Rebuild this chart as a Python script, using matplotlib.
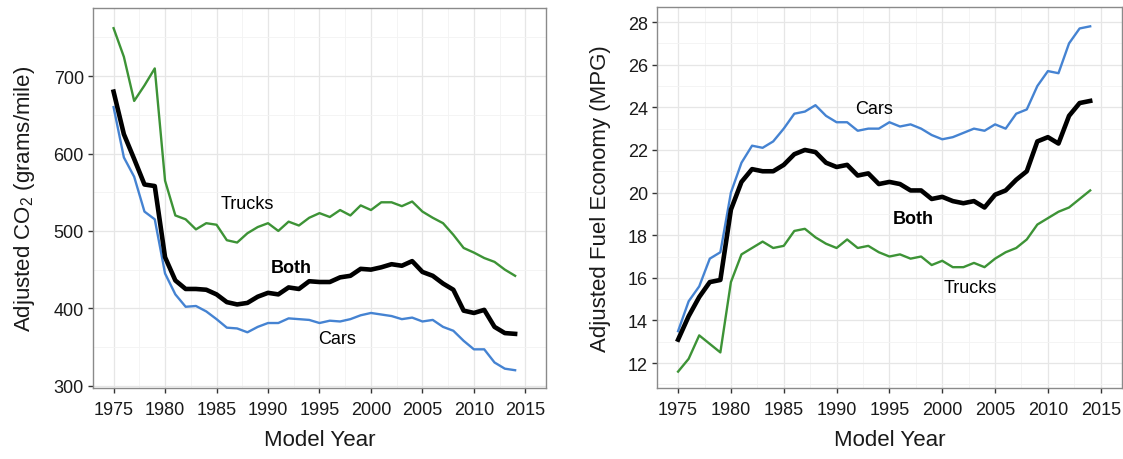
#!/usr/bin/env python
"""Adjusted CO2 emissions and fuel economy by model year, cars vs trucks"""

import matplotlib
matplotlib.use("Agg")
import matplotlib.pyplot as plt
from matplotlib.ticker import MultipleLocator

plt.rcParams['font.family'] = ['Liberation Sans', 'DejaVu Sans']
plt.rcParams['mathtext.fontset'] = 'custom'
plt.rcParams['mathtext.rm'] = 'Liberation Sans'
plt.rcParams['mathtext.default'] = 'regular'

years = list(range(1975, 2015))

# adjusted CO2, grams per mile
co2_cars = [660, 595, 570, 525, 515, 445, 418, 402, 403, 396,
            386, 375, 374, 369, 376, 381, 381, 387, 386, 385,
            381, 384, 383, 386, 391, 394, 392, 390, 386, 388,
            383, 385, 376, 371, 358, 347, 347, 330, 322, 320]
co2_trucks = [762, 725, 668, 688, 710, 565, 520, 515, 502, 510,
              508, 488, 485, 497, 505, 510, 500, 512, 507, 517,
              523, 518, 527, 520, 533, 527, 537, 537, 532, 538,
              525, 517, 510, 495, 478, 472, 465, 460, 450, 442]
co2_both = [680, 625, 593, 560, 558, 466, 436, 425, 425, 424,
            418, 408, 405, 407, 415, 420, 418, 427, 425, 435,
            434, 434, 440, 442, 451, 450, 453, 457, 455, 461,
            447, 442, 432, 424, 397, 394, 398, 376, 368, 367]

# adjusted fuel economy, MPG
mpg_cars = [13.5, 14.9, 15.6, 16.9, 17.2, 20.0, 21.4, 22.2, 22.1, 22.4,
            23.0, 23.7, 23.8, 24.1, 23.6, 23.3, 23.3, 22.9, 23.0, 23.0,
            23.3, 23.1, 23.2, 23.0, 22.7, 22.5, 22.6, 22.8, 23.0, 22.9,
            23.2, 23.0, 23.7, 23.9, 25.0, 25.7, 25.6, 27.0, 27.7, 27.8]
mpg_trucks = [11.6, 12.2, 13.3, 12.9, 12.5, 15.8, 17.1, 17.4, 17.7, 17.4,
              17.5, 18.2, 18.3, 17.9, 17.6, 17.4, 17.8, 17.4, 17.5, 17.2,
              17.0, 17.1, 16.9, 17.0, 16.6, 16.8, 16.5, 16.5, 16.7, 16.5,
              16.9, 17.2, 17.4, 17.8, 18.5, 18.8, 19.1, 19.3, 19.7, 20.1]
mpg_both = [13.1, 14.2, 15.1, 15.8, 15.9, 19.2, 20.5, 21.1, 21.0, 21.0,
            21.3, 21.8, 22.0, 21.9, 21.4, 21.2, 21.3, 20.8, 20.9, 20.4,
            20.5, 20.4, 20.1, 20.1, 19.7, 19.8, 19.6, 19.5, 19.6, 19.3,
            19.9, 20.1, 20.6, 21.0, 22.4, 22.6, 22.3, 23.6, 24.2, 24.3]

CAR_COLOR = "#4583d2"
TRUCK_COLOR = "#3d9336"


def _style(ax, ylim, major, minor):
    ax.set_xlim(1973, 2017)
    ax.set_ylim(*ylim)
    ax.xaxis.set_major_locator(MultipleLocator(5))
    ax.xaxis.set_minor_locator(MultipleLocator(2.5))
    ax.yaxis.set_major_locator(MultipleLocator(major))
    ax.yaxis.set_minor_locator(MultipleLocator(minor))
    ax.grid(which='major', color='#e6e6e6', lw=0.9)
    ax.grid(which='minor', color='#f3f3f3', lw=0.6)
    ax.set_axisbelow(True)
    for sp in ax.spines.values():
        sp.set_color('#8a8a8a')
        sp.set_linewidth(1.0)
    ax.tick_params(which='major', direction='out', length=3.5, width=1.0,
                   color='#333333', labelsize=13, labelcolor='#1a1a1a')
    ax.tick_params(axis='x', which='major', pad=6)
    ax.tick_params(axis='y', which='major', pad=3)
    ax.tick_params(which='minor', length=0)
    ax.set_xlabel("Model Year", fontsize=16, color='#1a1a1a', labelpad=8)


fig = plt.figure(figsize=(11.23, 4.6), dpi=100)
ax1 = fig.add_axes([0.0828, 0.1543, 0.4034, 0.826])
ax2 = fig.add_axes([0.585, 0.1543, 0.414, 0.828])

# CO2 panel
ax1.plot(years, co2_trucks, color=TRUCK_COLOR, lw=1.7)
ax1.plot(years, co2_cars, color=CAR_COLOR, lw=1.7)
ax1.plot(years, co2_both, color='black', lw=3.3)
_style(ax1, (297, 788), 100, 50)
ax1.set_ylabel(r"Adjusted CO$_2$ (grams/mile)", fontsize=16,
               color='#1a1a1a', labelpad=12)
ax1.text(1988, 535, "Trucks", fontsize=13, ha='center', va='center')
ax1.text(1992.3, 453, "Both", fontsize=13, fontweight='bold',
         ha='center', va='center')
ax1.text(1996.7, 361, "Cars", fontsize=13, ha='center', va='center')

# MPG panel
ax2.plot(years, mpg_trucks, color=TRUCK_COLOR, lw=1.7)
ax2.plot(years, mpg_cars, color=CAR_COLOR, lw=1.7)
ax2.plot(years, mpg_both, color='black', lw=3.3)
_style(ax2, (10.83, 28.7), 2, 1)
ax2.set_ylabel("Adjusted Fuel Economy (MPG)", fontsize=16,
               color='#1a1a1a', labelpad=12)
ax2.text(1993.5, 23.96, "Cars", fontsize=13, ha='center', va='center')
ax2.text(1997.3, 18.8, "Both", fontsize=13, fontweight='bold',
         ha='center', va='center')
ax2.text(2002.7, 15.55, "Trucks", fontsize=13, ha='center', va='center')

fig.savefig("out.png", dpi=100)
